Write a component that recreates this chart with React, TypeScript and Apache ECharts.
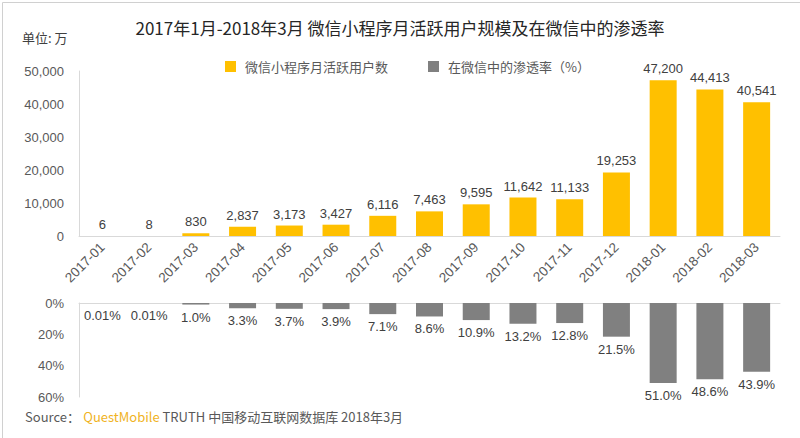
import React, { useEffect, useRef } from "react";
import * as echarts from "echarts";

const categories = [
  "2017-01", "2017-02", "2017-03", "2017-04", "2017-05", "2017-06", "2017-07", "2017-08",
  "2017-09", "2017-10", "2017-11", "2017-12", "2018-01", "2018-02", "2018-03",
];
const mauValues = [6, 8, 830, 2837, 3173, 3427, 6116, 7463, 9595, 11642, 11133, 19253, 47200, 44413, 40541];
const penetrationValues = [0.01, 0.01, 1.0, 3.3, 3.7, 3.9, 7.1, 8.6, 10.9, 13.2, 12.8, 21.5, 51.0, 48.6, 43.9];
const mauTicks = { min: 0, max: 50000, interval: 10000 };
const rateTicks = { min: 0, max: 60, interval: 20 };

const seriesNames = ["微信小程序月活跃用户数", "在微信中的渗透率（%）"];
const titleText = "2017年1月-2018年3月 微信小程序月活跃用户规模及在微信中的渗透率";
const unitText = "单位: 万";

const FONT = "Liberation Sans";
const CJK = "Noto Sans CJK SC";

export default function App() {
  const ref = useRef<HTMLDivElement>(null);
  useEffect(() => {
    if (!ref.current) return;
    const chart = echarts.init(ref.current, undefined, { renderer: "svg" });
    const fmt = (v: number) => v.toLocaleString("en-US");
    const axisLineStyle = { lineStyle: { color: "#d9d9d9", width: 1 } };
    chart.setOption({
      animation: false,
      backgroundColor: "#ffffff",
      textStyle: { fontFamily: FONT },
      title: {
        text: titleText,
        left: "center",
        top: 14,
        textStyle: { fontFamily: CJK, fontSize: 17, fontWeight: "normal", color: "#262626" },
      },
      legend: {
        left: 220,
        top: 55,
        itemWidth: 11,
        itemHeight: 11,
        itemGap: 40,
        icon: "rect",
        data: seriesNames,
        textStyle: { fontFamily: CJK, fontSize: 13, color: "#595959", padding: [0, 0, 0, 4] },
      },
      grid: [
        { left: 79, right: 20, top: 71, height: 165 },
        { left: 79, right: 20, top: 303, height: 94 },
      ],
      xAxis: [
        {
          type: "category",
          gridIndex: 0,
          data: categories,
          axisLine: axisLineStyle,
          axisTick: { show: false },
          axisLabel: { rotate: 45, fontSize: 13.5, color: "#595959", margin: 9, fontFamily: FONT },
        },
        {
          type: "category",
          gridIndex: 1,
          data: categories,
          axisLine: axisLineStyle,
          axisTick: { show: false },
          axisLabel: { show: false },
        },
      ],
      yAxis: [
        {
          type: "value",
          gridIndex: 0,
          ...mauTicks,
          axisLine: { show: true, ...axisLineStyle },
          axisTick: { show: false },
          splitLine: { show: false },
          axisLabel: {
            fontSize: 13,
            fontFamily: FONT,
            color: "#595959",
            margin: 15,
            formatter: (v: number) => fmt(v),
          },
        },
        {
          type: "value",
          gridIndex: 1,
          inverse: true,
          ...rateTicks,
          axisLine: { show: true, ...axisLineStyle },
          axisTick: { show: false },
          splitLine: { show: false },
          axisLabel: { fontSize: 13, fontFamily: FONT, color: "#595959", margin: 15, formatter: "{value}%" },
        },
      ],
      series: [
        {
          name: seriesNames[0],
          type: "bar",
          xAxisIndex: 0,
          yAxisIndex: 0,
          data: mauValues,
          barWidth: 27,
          itemStyle: { color: "#FFC000" },
          label: {
            show: true,
            position: "top",
            distance: 5,
            fontSize: 13,
            fontFamily: FONT,
            color: "#404040",
            formatter: (p: any) => fmt(p.value),
          },
        },
        {
          name: seriesNames[1],
          type: "bar",
          xAxisIndex: 1,
          yAxisIndex: 1,
          data: penetrationValues,
          barWidth: 27,
          itemStyle: { color: "#808080" },
          label: {
            show: true,
            position: "bottom",
            distance: 6,
            fontSize: 13,
            fontFamily: FONT,
            color: "#404040",
            formatter: (p: any) => (p.value < 0.1 ? p.value.toFixed(2) : p.value.toFixed(1)) + "%",
          },
        },
      ],
      graphic: [
        {
          type: "rect",
          left: 0,
          top: 0,
          shape: { x: 0.5, y: 0.5, width: 798, height: 436 },
          style: { fill: "none", stroke: "#d0d0d0", lineWidth: 1 },
          silent: true,
        },
        {
          type: "text",
          left: 22,
          top: 31,
          style: { text: unitText, fontFamily: CJK, fontSize: 13, fill: "#404040" },
        },
        {
          type: "text",
          left: 25,
          top: 410,
          style: {
            text: "{a|Source：} {b|QuestMobile}{a| TRUTH 中国移动互联网数据库 2018年3月}",
            rich: {
              a: { fontFamily: CJK, fontSize: 13, fill: "#595959", color: "#595959" },
              b: { fontFamily: CJK, fontSize: 13, fill: "#F0B323", color: "#F0B323" },
            },
          },
        },
      ],
    });
    return () => chart.dispose();
  }, []);
  return (
    <div
      ref={ref}
      style={{ position: "fixed", left: 0, top: 0, width: 800, height: 438 }}
    />
  );
}
